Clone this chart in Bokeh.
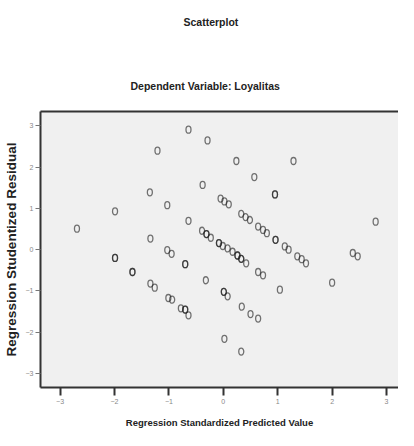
from bokeh.plotting import figure
from bokeh.models import FixedTicker, LinearAxis, Range1d, Title
from bokeh.embed import file_html
from bokeh.resources import INLINE

# Regression Standardized Predicted Value
pred = [-2.69, -1.99, -1.99, -1.99, -1.67, -1.67, -1.35, -1.34, -1.34, -1.26,
        -1.21, -1.03, -1.03, -0.95, -1.01, -0.94, -0.78, -0.70, -0.70, -0.64,
        -0.70, -0.70, -0.64, -0.64, -0.39, -0.31, -0.31, -0.23, -0.38, -0.32,
        -0.29, -0.05, 0.02, 0.10, -0.08, -0.08, -0.01, 0.08, 0.17, 0.26,
        0.26, 0.33, 0.33, 0.42, 0.01, 0.01, 0.08, 0.02, 0.24, 0.33,
        0.41, 0.49, 0.34, 0.50, 0.64, 0.33, 0.57, 0.64, 0.73, 0.80,
        0.64, 0.73, 0.95, 0.95, 0.96, 0.96, 1.04, 1.13, 1.20, 1.29,
        1.36, 1.44, 1.52, 2.00, 2.38, 2.47, 2.80]
# Regression Studentized Residual
resid = [0.51, 0.93, -0.20, -0.20, -0.54, -0.54, 1.39, 0.27, -0.82, -0.92,
         2.40, 1.08, -0.01, -0.10, -1.17, -1.21, -1.42, -1.45, -1.45, -1.59,
         -0.35, -0.35, 2.91, 0.70, 0.46, 0.38, 0.38, 0.29, 1.57, -0.74,
         2.65, 1.24, 1.17, 1.10, 0.16, 0.16, 0.09, 0.03, -0.05, -0.14,
         -0.14, -0.22, -0.22, -0.33, -1.02, -1.02, -1.13, -2.16, 2.15, 0.87,
         0.79, 0.72, -1.38, -1.56, -1.67, -2.47, 1.76, 0.56, 0.48, 0.40,
         -0.54, -0.62, 1.34, 1.34, 0.24, 0.24, -0.97, 0.08, 0.00, 2.15,
         -0.16, -0.23, -0.33, -0.80, -0.08, -0.16, 0.68]

tick_values = [-3, -2, -1, 0, 1, 2, 3]

title_text = "Scatterplot"
subtitle_text = "Dependent Variable: Loyalitas"
x_label = "Regression Standardized Predicted Value"
y_label = "Regression Studentized Residual"

FONT = "Liberation Sans"

p = figure(width=398, height=430, output_backend="svg", toolbar_location=None,
           x_range=Range1d(-3.36, 3.22), y_range=Range1d(-3.34, 3.35),
           min_border_left=40, min_border_right=0, min_border_top=111,
           min_border_bottom=43)

p.background_fill_color = "#f0f0f0"
p.border_fill_color = "white"
p.outline_line_color = None
p.grid.visible = False

p.ellipse(pred, resid, width=5, height=7, width_units="screen", height_units="screen",
          fill_color=None, line_color="#1a1a1a", line_alpha=0.6, line_width=1.3)

# x axis
xa = p.xaxis[0]
xa.ticker = FixedTicker(ticks=tick_values)
xa.axis_line_color = "#333333"
xa.axis_line_width = 2
xa.major_tick_line_color = "#333333"
xa.major_tick_line_width = 2
xa.major_tick_out = 8
xa.major_tick_in = 0
xa.minor_tick_line_color = None
xa.major_label_text_font = FONT
xa.major_label_text_font_size = "7px"
xa.major_label_text_color = "#888888"
xa.major_label_standoff = 3
xa.axis_label = x_label
xa.axis_label_text_font = FONT
xa.axis_label_text_font_size = "9.5px"
xa.axis_label_text_font_style = "bold"
xa.axis_label_text_color = "#222222"
xa.axis_label_standoff = 10

# y axis
ya = p.yaxis[0]
ya.ticker = FixedTicker(ticks=tick_values)
ya.axis_line_color = "#333333"
ya.axis_line_width = 2
ya.major_tick_line_color = "#777777"
ya.major_tick_line_width = 1
ya.major_tick_out = 5
ya.major_tick_in = 0
ya.minor_tick_line_color = None
ya.major_label_text_font = FONT
ya.major_label_text_font_size = "7px"
ya.major_label_text_color = "#888888"
ya.major_label_standoff = 2
ya.major_label_orientation = "horizontal"
ya.axis_label = y_label
ya.axis_label_text_font = FONT
ya.axis_label_text_font_size = "13.5px"
ya.axis_label_text_font_style = "bold"
ya.axis_label_text_color = "#222222"
ya.axis_label_standoff = 4

# top border line
top = LinearAxis(ticker=FixedTicker(ticks=[]), axis_line_color="#333333", axis_line_width=2,
                 major_tick_line_color=None, minor_tick_line_color=None)
p.add_layout(top, "above")

sub = Title(text=subtitle_text, align="left", offset=90, standoff=36, vertical_align="top",
            text_font=FONT, text_font_size="10.5px", text_font_style="bold",
            text_color="#222222")
p.add_layout(sub, "above")
spacer = Title(text=" ", align="left", standoff=5, text_font=FONT, text_font_size="10px")
p.add_layout(spacer, "above")
main = Title(text=title_text, align="left", offset=143, standoff=28, vertical_align="top",
             text_font=FONT, text_font_size="10.5px", text_font_style="bold",
             text_color="#222222")
p.add_layout(main, "above")

open("out.html", "w").write(file_html(p, INLINE))
